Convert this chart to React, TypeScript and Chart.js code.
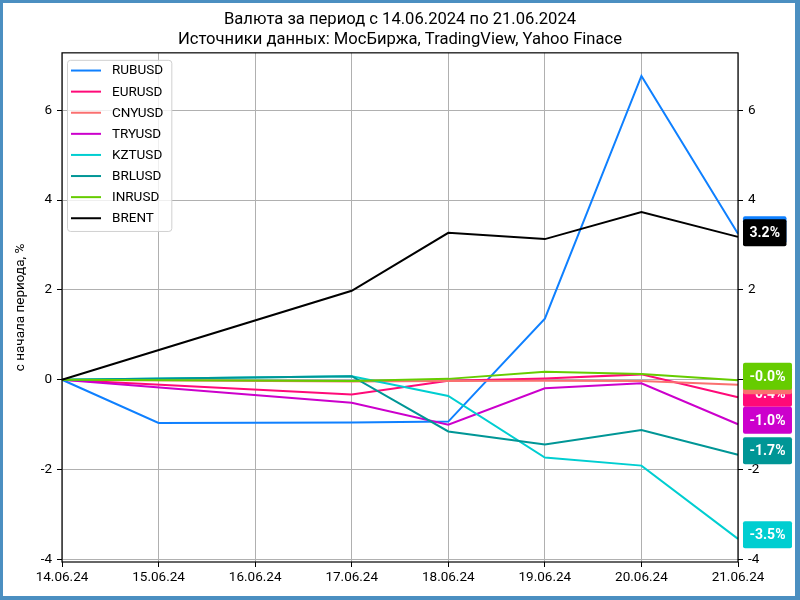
import React, { useEffect, useRef } from 'react';
import { Chart, registerables } from 'chart.js';

Chart.register(...registerables);

const dates = ['14.06.24', '15.06.24', '16.06.24', '17.06.24', '18.06.24', '19.06.24', '20.06.24', '21.06.24'];
const seriesNames = ['RUBUSD', 'EURUSD', 'CNYUSD', 'TRYUSD', 'KZTUSD', 'BRLUSD', 'INRUSD', 'BRENT'];
const seriesColors = ['#0f80ff', '#ff0a78', '#fa7070', '#cc00cc', '#00ced1', '#009696', '#66cc00', '#000000'];

const rubusd = [0, -0.96, null, -0.95, -0.93, 1.36, 6.76, 3.25];
const eurusd = [0, null, null, -0.33, -0.02, 0.03, 0.12, -0.39];
const cnyusd = [0, null, null, -0.04, -0.03, -0.02, -0.03, -0.11];
const tryusd = [0, null, null, -0.51, -1.0, -0.19, -0.08, -0.99];
const kztusd = [0, null, null, 0.08, -0.36, -1.73, -1.91, -3.54];
const brlusd = [0, null, null, 0.08, -1.15, -1.44, -1.12, -1.67];
const inrusd = [0, null, null, -0.03, 0.02, 0.18, 0.13, -0.01];
const brent = [0, null, null, 1.98, 3.27, 3.13, 3.73, 3.18];

const yTicks = [-4, -2, 0, 2, 4, 6];

const titleLines = ['Валюта за период с 14.06.2024 по 21.06.2024', 'Источники данных: МосБиржа, TradingView, Yahoo Finace'];
const yAxisTitle = 'с начала периода, %';

const FONT = 'Roboto';

export default function App() {
  const ref = useRef<HTMLCanvasElement | null>(null);

  useEffect(() => {
    document.body.style.margin = '0';
    const canvas = ref.current;
    if (!canvas) return;
    const values = [rubusd, eurusd, cnyusd, tryusd, kztusd, brlusd, inrusd, brent];
    const all = values.flat().filter((v) => v !== null) as number[];
    const dmin = Math.min(...all);
    const dmax = Math.max(...all);
    const margin = (dmax - dmin) * 0.05;

    const decorPlugin = {
      id: 'decor',
      beforeDraw(chart: any) {
        const ctx = chart.ctx;
        ctx.save();
        ctx.fillStyle = '#ffffff';
        ctx.fillRect(0, 0, chart.width, chart.height);
        ctx.restore();
      },
      afterDatasetsDraw(chart: any) {
        const ctx = chart.ctx;
        const a = chart.chartArea;
        ctx.save();
        // frame
        ctx.strokeStyle = '#000000';
        ctx.lineWidth = 1.2;
        ctx.strokeRect(a.left, a.top, a.right - a.left, a.bottom - a.top);

        // legend
        ctx.font = `13.5px ${FONT}`;
        const lx = a.left + 5;
        const ly = a.top + 7;
        const rowH = 21.1;
        let maxW = 0;
        seriesNames.forEach((n) => { maxW = Math.max(maxW, ctx.measureText(n).width); });
        const bw = 45 + maxW + 8;
        const bh = 10.7 + rowH * (seriesNames.length - 1) + 12.7;
        ctx.beginPath();
        ctx.roundRect(lx + 0.5, ly + 0.5, bw, bh, 3);
        ctx.fillStyle = 'rgba(255,255,255,0.8)';
        ctx.fill();
        ctx.strokeStyle = '#d0d0d0';
        ctx.lineWidth = 1;
        ctx.stroke();
        seriesNames.forEach((n, i) => {
          const cy = ly + 10.7 + i * rowH;
          ctx.beginPath();
          ctx.moveTo(lx + 4, cy);
          ctx.lineTo(lx + 34, cy);
          ctx.strokeStyle = seriesColors[i];
          ctx.lineWidth = 2;
          ctx.stroke();
          ctx.fillStyle = '#000000';
          ctx.textBaseline = 'middle';
          ctx.textAlign = 'left';
          ctx.fillText(n, lx + 45, cy + 0.5);
        });

        // right value labels
        const yScale = chart.scales.y;
        ctx.font = `bold 14px ${FONT}`;
        chart.data.datasets.forEach((ds: any, i: number) => {
          const arr = ds.data;
          const last = arr[arr.length - 1];
          if (last === null || last === undefined) return;
          const cy = yScale.getPixelForValue(last) - 4;
          const txt = `${last.toFixed(1)}%`;
          const tw = ctx.measureText(txt).width;
          const w = tw + 13;
          const h = 27;
          const x0 = a.right + 5;
          ctx.beginPath();
          ctx.roundRect(x0, cy - h / 2, w, h, 2);
          ctx.fillStyle = seriesColors[i];
          ctx.fill();
          ctx.fillStyle = '#ffffff';
          ctx.textAlign = 'center';
          ctx.textBaseline = 'middle';
          ctx.fillText(txt, x0 + w / 2, cy + 1);
        });
        ctx.restore();
      },
      afterDraw(chart: any) {
        const ctx = chart.ctx;
        ctx.save();
        ctx.fillStyle = '#4b8fc1';
        ctx.fillRect(0, 0, chart.width, 3);
        ctx.fillRect(0, 0, 3, chart.height);
        ctx.fillRect(chart.width - 5, 0, 5, chart.height);
        ctx.fillRect(0, chart.height - 4, chart.width, 4);
        ctx.restore();
      },
    };

    const tickFont = { family: FONT, size: 13.5 };

    const chart = new Chart(canvas, {
      type: 'line',
      data: {
        labels: dates,
        datasets: seriesNames.map((name, i) => ({
          label: name,
          data: values[i],
          borderColor: seriesColors[i],
          backgroundColor: seriesColors[i],
          borderWidth: 2,
          pointRadius: 0,
          pointHoverRadius: 0,
          tension: 0,
          spanGaps: true,
          fill: false,
          order: seriesNames.length - i,
        })),
      },
      options: {
        responsive: false,
        animation: false,
        events: [],
        layout: { padding: 0 },
        plugins: {
          legend: { display: false },
          tooltip: { enabled: false },
          title: {
            display: true,
            text: titleLines,
            color: '#000000',
            font: { family: FONT, size: 16.6, weight: 'normal', lineHeight: 1.2 },
            padding: { top: 9.5, bottom: 3.5 },
          },
        },
        scales: {
          x: {
            type: 'category',
            offset: false,
            border: { display: false },
            grid: { color: '#b0b0b0', lineWidth: 1, tickColor: '#000000', tickLength: 5, drawTicks: true },
            ticks: { color: '#000000', font: tickFont, padding: 3, maxRotation: 0, autoSkip: false },
            afterFit: (s: any) => { s.height = 38; },
          },
          y: {
            type: 'linear',
            position: 'left',
            min: dmin - margin,
            max: dmax + margin,
            border: { display: false },
            grid: { color: '#b0b0b0', lineWidth: 1, tickColor: '#000000', tickLength: 5 },
            ticks: { color: '#000000', font: tickFont, padding: 5 },
            title: {
              display: true,
              text: yAxisTitle,
              color: '#000000',
              font: { family: FONT, size: 13.5 },
              padding: { top: 13, bottom: 0 },
            },
            afterBuildTicks: (s: any) => { s.ticks = yTicks.map((v) => ({ value: v })); },
            afterFit: (s: any) => { s.width = 62; },
          },
          y2: {
            type: 'linear',
            position: 'right',
            min: dmin - margin,
            max: dmax + margin,
            border: { display: false },
            grid: { drawOnChartArea: false, tickColor: '#000000', tickLength: 5 },
            ticks: { color: '#000000', font: tickFont, padding: 5 },
            afterBuildTicks: (s: any) => { s.ticks = yTicks.map((v) => ({ value: v })); },
            afterFit: (s: any) => { s.width = 62; },
          },
        },
      },
      plugins: [decorPlugin],
    } as any);

    return () => { chart.destroy(); };
  }, []);

  return (
    <div style={{ width: 800, height: 600 }}>
      <canvas ref={ref} width={800} height={600} style={{ display: 'block' }} />
    </div>
  );
}
